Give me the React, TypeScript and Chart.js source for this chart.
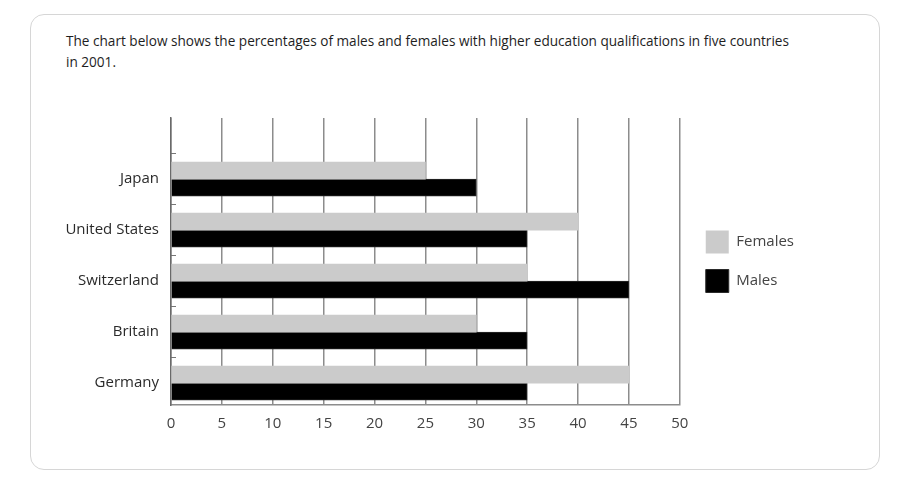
import React, { useEffect, useRef } from "react";
import { Chart, registerables } from "chart.js";

Chart.register(...registerables);

const countries = ["Japan", "United States", "Switzerland", "Britain", "Germany"];
const females = [25, 40, 35, 30, 45];
const males = [30, 35, 45, 35, 35];
const xTickValues = [0, 5, 10, 15, 20, 25, 30, 35, 40, 45, 50];

const FONT = "'Open Sans', 'Noto Sans', sans-serif";

const App: React.FC = () => {
  const chartRef = useRef<HTMLCanvasElement | null>(null);
  const chartInstanceRef = useRef<Chart | null>(null);

  useEffect(() => {
    if (!chartRef.current) return;
    const ctx = chartRef.current.getContext("2d");
    if (!ctx) return;
    if (chartInstanceRef.current) chartInstanceRef.current.destroy();

    chartInstanceRef.current = new Chart(ctx, {
      type: "bar",
      data: {
        datasets: [
          {
            label: "Females",
            data: females.map((v, i) => ({ x: v, y: i })),
            backgroundColor: "#cbcbcb",
            borderWidth: 0,
          },
          {
            label: "Males",
            data: males.map((v, i) => ({ x: v, y: i })),
            backgroundColor: "#000000",
            borderColor: "#2a2a2a",
            borderWidth: 1,
          },
        ],
      },
      options: {
        indexAxis: "y",
        animation: false,
        responsive: true,
        maintainAspectRatio: false,
        barThickness: 17,
        layout: { padding: { top: 18, left: 0, right: 56, bottom: 15 } },
        scales: {
          x: {
            type: "linear",
            min: 0,
            max: 50,
            afterBuildTicks: (scale) => {
              scale.ticks = xTickValues.map((v) => ({ value: v }));
            },
            afterFit: (scale) => {
              scale.height = 30;
            },
            ticks: {
              padding: 10,
              color: "#444",
              font: { family: FONT, size: 15 },
            },
            grid: {
              color: "#8c8c8c",
              lineWidth: 1.5,
              drawTicks: false,
            },
            border: { color: "#8c8c8c", width: 1.5 },
          },
          y: {
            type: "linear",
            reverse: true,
            offset: false,
            min: -1.2,
            max: 4.43,
            afterBuildTicks: (scale) => {
              scale.ticks = countries.map((_, i) => ({ value: i }));
            },
            afterFit: (scale) => {
              scale.width = 131;
              scale.paddingTop = 0;
              scale.paddingBottom = 0;
            },
            ticks: {
              padding: 17,
              color: "#2a2a2a",
              font: { family: FONT, size: 15 },
              callback: (value) => countries[Number(value)] ?? "",
            },
            grid: {
              offset: true,
              drawOnChartArea: false,
              drawTicks: true,
              tickLength: -5,
              color: "#777",
              lineWidth: 1,
            },
            border: { color: "#6a6a6a", width: 1.5 },
          },
          // empty spacer axis between plot and legend
          gap: {
            type: "linear",
            position: "right",
            display: true,
            ticks: { display: false },
            grid: { display: false },
            border: { display: false },
            afterFit: (scale) => {
              scale.width = 10;
              scale.paddingTop = 0;
              scale.paddingBottom = 0;
            },
          },
        },
        plugins: {
          legend: {
            position: "right",
            fullSize: false,
            labels: {
              boxWidth: 23,
              boxHeight: 23,
              padding: 16,
              color: "#444",
              font: { family: FONT, size: 15 },
            },
          },
          tooltip: { enabled: false },
        },
      },
    });

    return () => {
      if (chartInstanceRef.current) {
        chartInstanceRef.current.destroy();
        chartInstanceRef.current = null;
      }
    };
  }, []);

  return (
    <div
      style={{
        position: "absolute",
        left: 0,
        top: 0,
        width: 904,
        height: 478,
        background: "#fff",
        fontFamily: FONT,
      }}
    >
      <div
        style={{
          position: "absolute",
          left: 30,
          top: 14,
          width: 848,
          height: 454,
          border: "1px solid #d6d6d6",
          borderRadius: 14,
        }}
      />
      <div
        style={{
          position: "absolute",
          left: 66,
          top: 30,
          fontSize: 13.6,
          lineHeight: "21px",
          color: "#1e1e1e",
          whiteSpace: "nowrap",
        }}
      >
        The chart below shows the percentages of males and females with higher education qualifications in five countries
        <br />
        in 2001.
      </div>
      <div
        style={{
          position: "absolute",
          left: 40,
          top: 100,
          width: 820,
          height: 350,
        }}
      >
        <canvas ref={chartRef}></canvas>
      </div>
    </div>
  );
};

export default App;
